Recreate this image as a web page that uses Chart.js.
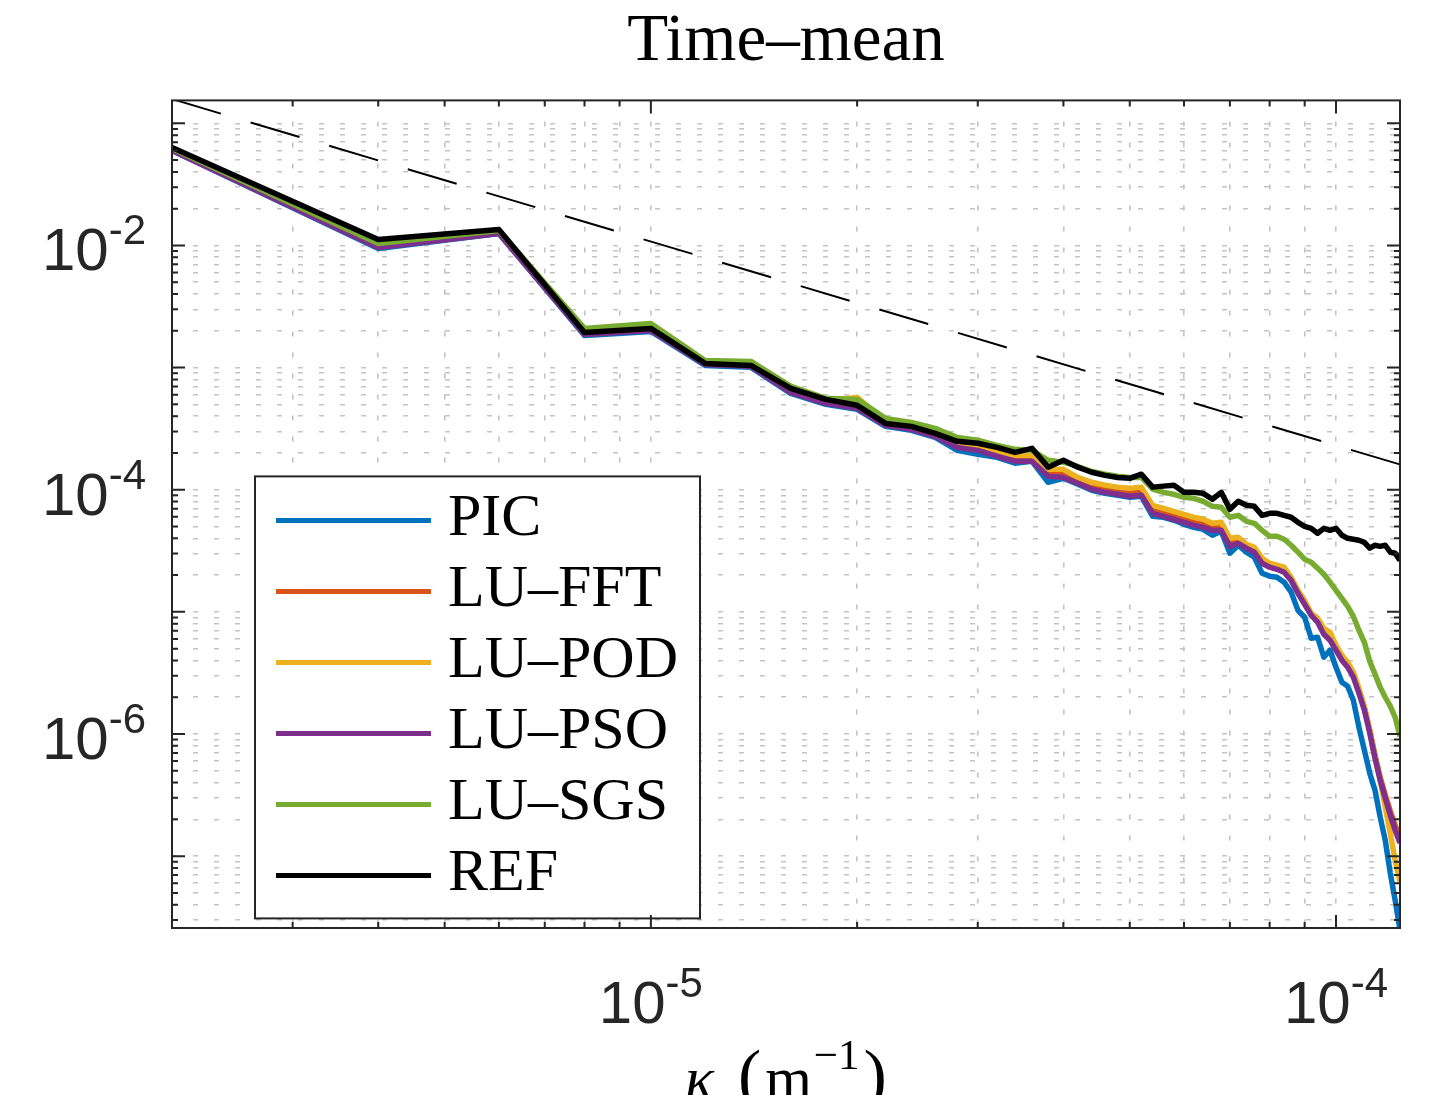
<!DOCTYPE html>
<html>
<head>
<meta charset="utf-8">
<script src="https://cdn.jsdelivr.net/npm/chart.js@4.4.1/dist/chart.umd.min.js"></script>
<style>
html,body{margin:0;padding:0;background:#fff;width:1434px;height:1095px;overflow:hidden;}
#wrap{position:relative;width:1434px;height:1095px;overflow:hidden;background:#fff;}
#box{position:relative;width:1434px;height:1120px;}
canvas{display:block;}
</style>
</head>
<body>
<div id="wrap"><div id="box"><canvas id="c"></canvas></div></div>
<script>
// ---------------- data ----------------
const chartTitle = 'Time\u2013mean';
const seriesNames = ['PIC', 'LU\u2013FFT', 'LU\u2013POD', 'LU\u2013PSO', 'LU\u2013SGS', 'REF'];

const kappa = [2e-6, 4e-6, 6e-6, 8e-6, 1e-5, 1.2e-5, 1.4e-5, 1.6e-5, 1.8e-5, 2e-5,
  2.2e-5, 2.4e-5, 2.6e-5, 2.8e-5, 3e-5, 3.2e-5, 3.4e-5, 3.6e-5, 3.8e-5, 4e-5,
  4.2e-5, 4.4e-5, 4.6e-5, 4.8e-5, 5e-5, 5.2e-5, 5.4e-5, 5.6e-5, 5.8e-5, 6e-5,
  6.2e-5, 6.4e-5, 6.6e-5, 6.8e-5, 7e-5, 7.2e-5, 7.4e-5, 7.6e-5, 7.8e-5, 8e-5,
  8.2e-5, 8.4e-5, 8.6e-5, 8.8e-5, 9e-5, 9.2e-5, 9.4e-5, 9.6e-5, 9.8e-5, 1e-4,
  1.02e-4, 1.04e-4, 1.06e-4, 1.08e-4, 1.1e-4, 1.12e-4, 1.14e-4, 1.16e-4, 1.18e-4, 1.2e-4,
  1.22e-4, 1.24e-4];

const PIC = [0.0599, 0.00945, 0.01254, 0.001834, 0.001978, 0.001042, 0.001004, 6.15e-4, 5.00e-4, 4.55e-4,
  3.30e-4, 3.06e-4, 2.68e-4, 2.10e-4, 1.95e-4, 1.84e-4, 1.65e-4, 1.71e-4, 1.15e-4, 1.24e-4,
  1.11e-4, 9.89e-5, 9.34e-5, 9.00e-5, 8.67e-5, 8.83e-5, 6.06e-5, 5.95e-5, 5.62e-5, 5.21e-5,
  4.92e-5, 4.74e-5, 4.24e-5, 4.57e-5, 3.02e-5, 3.51e-5, 3.08e-5, 2.80e-5, 2.07e-5, 1.96e-5,
  1.92e-5, 1.75e-5, 1.45e-5, 1.03e-5, 9.03e-6, 6.08e-6, 6.20e-6, 4.25e-6, 4.85e-6, 3.52e-6,
  2.65e-6, 2.46e-6, 1.89e-6, 1.14e-6, 7.37e-7, 4.78e-7, 3.47e-7, 2.09e-7, 1.35e-7, 7.26e-8,
  4.36e-8, 2.48e-8];

const LU_FFT = [0.0610, 0.00981, 0.01278, 0.001905, 0.002054, 0.001082, 0.001042, 6.39e-4, 5.19e-4, 4.81e-4,
  3.43e-4, 3.18e-4, 2.84e-4, 2.31e-4, 2.14e-4, 1.95e-4, 1.81e-4, 1.81e-4, 1.36e-4, 1.34e-4,
  1.19e-4, 1.07e-4, 1.01e-4, 9.70e-5, 9.34e-5, 9.52e-5, 6.78e-5, 6.41e-5, 6.06e-5, 5.73e-5,
  5.41e-5, 5.21e-5, 4.92e-5, 4.92e-5, 3.64e-5, 3.86e-5, 3.44e-5, 3.19e-5, 2.60e-5, 2.41e-5,
  2.32e-5, 2.19e-5, 1.85e-5, 1.45e-5, 1.20e-5, 9.56e-6, 8.54e-6, 6.94e-6, 6.32e-6, 5.13e-6,
  4.25e-6, 3.73e-6, 3.09e-6, 2.28e-6, 1.66e-6, 1.07e-6, 6.71e-7, 4.43e-7, 3.16e-7, 2.34e-7,
  1.79e-7, 1.40e-7];

const LU_POD = [0.0622, 0.0100, 0.01302, 0.001978, 0.002133, 0.001103, 0.001082, 7.02e-4, 5.39e-4, 5.70e-4,
  3.63e-4, 3.37e-4, 2.95e-4, 2.40e-4, 2.22e-4, 2.02e-4, 1.91e-4, 1.91e-4, 1.47e-4, 1.47e-4,
  1.26e-4, 1.15e-4, 1.09e-4, 1.05e-4, 1.03e-4, 1.05e-4, 7.45e-5, 7.04e-5, 6.66e-5, 6.29e-5,
  5.95e-5, 5.73e-5, 5.31e-5, 5.41e-5, 4.00e-5, 4.08e-5, 3.58e-5, 3.38e-5, 2.75e-5, 2.50e-5,
  2.41e-5, 2.32e-5, 1.92e-5, 1.50e-5, 1.24e-5, 9.74e-6, 8.87e-6, 7.34e-6, 6.81e-6, 5.33e-6,
  4.41e-6, 3.87e-6, 3.21e-6, 2.37e-6, 1.66e-6, 1.07e-6, 6.46e-7, 4.19e-7, 2.52e-7, 1.54e-7,
  9.27e-8, 6.13e-8];

const LU_PSO = [0.0599, 0.00963, 0.01254, 0.001869, 0.002016, 0.001062, 0.001023, 6.27e-4, 5.09e-4, 4.64e-4,
  3.37e-4, 3.12e-4, 2.74e-4, 2.22e-4, 2.10e-4, 1.88e-4, 1.71e-4, 1.71e-4, 1.29e-4, 1.26e-4,
  1.13e-4, 1.01e-4, 9.52e-5, 9.17e-5, 8.83e-5, 9.00e-5, 6.41e-5, 6.06e-5, 5.73e-5, 5.41e-5,
  5.11e-5, 4.92e-5, 4.65e-5, 4.65e-5, 3.44e-5, 3.64e-5, 3.32e-5, 3.08e-5, 2.50e-5, 2.32e-5,
  2.23e-5, 2.11e-5, 1.81e-5, 1.42e-5, 1.15e-5, 9.38e-6, 8.22e-6, 6.56e-6, 5.86e-6, 4.85e-6,
  4.02e-6, 3.52e-6, 2.92e-6, 2.16e-6, 1.57e-6, 1.02e-6, 6.34e-7, 4.19e-7, 2.98e-7, 2.17e-7,
  1.63e-7, 1.28e-7];

const LU_SGS = [0.0622, 0.01038, 0.01327, 0.002093, 0.00230, 0.001145, 0.001124, 7.02e-4, 5.60e-4, 5.49e-4,
  3.84e-4, 3.56e-4, 3.18e-4, 2.68e-4, 2.54e-4, 2.31e-4, 2.14e-4, 2.10e-4, 1.74e-4, 1.68e-4,
  1.55e-4, 1.41e-4, 1.34e-4, 1.29e-4, 1.26e-4, 1.26e-4, 1.01e-4, 9.52e-5, 9.17e-5, 8.67e-5,
  8.50e-5, 8.04e-5, 7.31e-5, 7.18e-5, 5.95e-5, 6.17e-5, 5.51e-5, 5.31e-5, 4.65e-5, 4.16e-5,
  4.16e-5, 3.93e-5, 3.51e-5, 3.08e-5, 2.70e-5, 2.55e-5, 2.28e-5, 2.03e-5, 1.75e-5, 1.50e-5,
  1.29e-5, 1.11e-5, 9.2e-6, 7.07e-6, 5.64e-6, 3.94e-6, 3.09e-6, 2.42e-6, 2.00e-6, 1.69e-6,
  1.37e-6, 9.59e-7];

const REF = [0.0634, 0.0112, 0.01352, 0.001941, 0.002093, 0.001082, 0.001042, 6.76e-4, 5.49e-4, 4.91e-4,
  3.49e-4, 3.30e-4, 2.89e-4, 2.49e-4, 2.40e-4, 2.22e-4, 2.02e-4, 2.18e-4, 1.53e-4, 1.74e-4,
  1.53e-4, 1.39e-4, 1.31e-4, 1.26e-4, 1.24e-4, 1.34e-4, 1.05e-4, 1.07e-4, 1.09e-4, 9.52e-5,
  9.52e-5, 9.34e-5, 8.35e-5, 9.52e-5, 6.91e-5, 8.04e-5, 7.45e-5, 7.31e-5, 6.17e-5, 6.41e-5,
  6.41e-5, 6.17e-5, 5.95e-5, 5.41e-5, 5.02e-5, 4.83e-5, 4.40e-5, 4.83e-5, 4.65e-5, 4.83e-5,
  4.24e-5, 4.00e-5, 3.93e-5, 3.86e-5, 3.71e-5, 3.32e-5, 3.51e-5, 3.44e-5, 3.51e-5, 3.08e-5,
  3.02e-5, 2.64e-5];

// reference slope line (k^-5/3), end points
const slopeX = [2e-6, 1.24e-4];
const slopeY = [0.158, 1.61e-4];

// axis ranges and tick labels
const xRange = [2e-6, 1.24e-4];
const yRange = [2.58e-8, 0.154];
const xTickValues = [1e-5, 1e-4];
const xTickExponents = ['-5', '-4'];
const yTickValues = [1e-6, 1e-4, 1e-2];
const yTickExponents = ['-6', '-4', '-2'];
const xAxisTitle = ['\u03BA', '(', 'm', '\u22121', ')'];

// ---------------- styling ----------------
const seriesColors = ['#0072BD', '#D95319', '#EDB120', '#7E2F8E', '#77AC30', '#000000'];
const seriesValues = [PIC, LU_FFT, LU_POD, LU_PSO, LU_SGS, REF];
const AX = '#262626';
const LW = 5.5;

function logGridTicks(min, max) {
  const out = [];
  const e0 = Math.floor(Math.log10(min)) , e1 = Math.ceil(Math.log10(max));
  for (let e = e0; e <= e1; e++) {
    for (let m = 1; m <= 9; m++) {
      const v = m * Math.pow(10, e);
      if (v >= min * (1 - 1e-9) && v <= max * (1 + 1e-9)) out.push({ value: v });
    }
  }
  return out;
}

const datasets = seriesNames.map((name, i) => ({
  label: name,
  data: kappa.map((x, j) => ({ x: x, y: seriesValues[i][j] })),
  borderColor: seriesColors[i],
  backgroundColor: seriesColors[i],
  borderWidth: LW,
  pointRadius: 0,
  tension: 0,
  fill: false,
  borderJoinStyle: 'round',
  order: seriesNames.length - i
}));
datasets.push({
  label: 'slope',
  data: slopeX.map((x, j) => ({ x: x, y: slopeY[j] })),
  borderColor: '#000',
  borderWidth: 2,
  borderDash: [51, 31],
  pointRadius: 0,
  fill: false,
  order: 0
});

function drawPow(ctx, x, baseY, exp, align) {
  const bs = 60, es = 42, raise = 26;
  ctx.font = bs + 'px "Liberation Sans", Arial, sans-serif';
  const wb = ctx.measureText('10').width;
  ctx.font = es + 'px "Liberation Sans", Arial, sans-serif';
  const we = ctx.measureText(exp).width;
  const start = align === 'center' ? x - (wb + we) / 2 : x - (wb + we);
  ctx.font = bs + 'px "Liberation Sans", Arial, sans-serif';
  ctx.fillText('10', start, baseY);
  ctx.font = es + 'px "Liberation Sans", Arial, sans-serif';
  ctx.fillText(exp, start + wb, baseY - raise);
}

const decor = {
  id: 'decor',
  afterDatasetsDraw(chart) {
    const { ctx, chartArea: a } = chart;
    ctx.save();
    const bx = a.left + 83, by = a.top + 376, bw = 445, bh = 442;
    ctx.fillStyle = '#fff';
    ctx.fillRect(bx, by, bw, bh);
    ctx.lineWidth = 2;
    ctx.strokeStyle = AX;
    ctx.strokeRect(bx, by, bw, bh);
    ctx.font = '60px "Liberation Serif", serif';
    ctx.textBaseline = 'alphabetic';
    ctx.textAlign = 'left';
    seriesNames.forEach((n, i) => {
      const y = by + 44 + i * 71;
      ctx.strokeStyle = seriesColors[i];
      ctx.lineWidth = 5;
      ctx.beginPath();
      ctx.moveTo(bx + 21, y);
      ctx.lineTo(bx + 176, y);
      ctx.stroke();
      ctx.fillStyle = '#000';
      ctx.fillText(n, bx + 193, y + 15);
    });
    ctx.restore();
  },
  afterDraw(chart) {
    const { ctx, chartArea: a } = chart;
    const xs = chart.scales.x, ys = chart.scales.y;
    ctx.save();
    // inward ticks on all four sides
    ctx.strokeStyle = AX;
    ctx.lineWidth = 2;
    ctx.beginPath();
    xs.ticks.forEach(t => {
      const lg = Math.log10(t.value);
      const len = Math.abs(lg - Math.round(lg)) < 1e-6 ? 13 : 6;
      const p = xs.getPixelForValue(t.value);
      if (p <= a.left + 1 || p >= a.right - 1) return;
      ctx.moveTo(p, a.bottom); ctx.lineTo(p, a.bottom - len);
      ctx.moveTo(p, a.top); ctx.lineTo(p, a.top + len);
    });
    ys.ticks.forEach(t => {
      const lg = Math.log10(t.value);
      const len = Math.abs(lg - Math.round(lg)) < 1e-6 ? 13 : 6;
      const p = ys.getPixelForValue(t.value);
      if (p <= a.top + 1 || p >= a.bottom - 1) return;
      ctx.moveTo(a.left, p); ctx.lineTo(a.left + len, p);
      ctx.moveTo(a.right, p); ctx.lineTo(a.right - len, p);
    });
    ctx.stroke();
    // frame
    ctx.strokeRect(a.left, a.top, a.right - a.left, a.bottom - a.top);
    // tick labels
    ctx.fillStyle = AX;
    ctx.textAlign = 'left';
    ctx.textBaseline = 'alphabetic';
    xTickValues.forEach((v, i) => drawPow(ctx, xs.getPixelForValue(v), a.bottom + 95, xTickExponents[i], 'center'));
    yTickValues.forEach((v, i) => drawPow(ctx, a.left - 26, ys.getPixelForValue(v) + 25, yTickExponents[i], 'right'));
    // x axis title
    ctx.fillStyle = '#000';
    const base = a.bottom + 170;
    const parts = [
      { t: xAxisTitle[0], f: 'italic 60px "Liberation Serif", serif', dy: 0, gap: 24 },
      { t: xAxisTitle[1], f: '70px "Liberation Serif", serif', dy: 0, gap: 4 },
      { t: xAxisTitle[2], f: '60px "Liberation Serif", serif', dy: 0, gap: 2 },
      { t: xAxisTitle[3], f: '43px "Liberation Serif", serif', dy: -29, gap: 4 },
      { t: xAxisTitle[4], f: '70px "Liberation Serif", serif', dy: 0, gap: 0 }
    ];
    let total = 0;
    parts.forEach(p => { ctx.font = p.f; p.w = ctx.measureText(p.t).width; total += p.w + p.gap; });
    let x = (a.left + a.right) / 2 - total / 2;
    parts.forEach(p => { ctx.font = p.f; ctx.fillText(p.t, x, base + p.dy); x += p.w + p.gap; });
    ctx.restore();
  }
};

const gridOpts = { color: '#c4c4c4', lineWidth: 1.6, drawTicks: false };

new Chart(document.getElementById('c'), {
  type: 'line',
  data: { datasets: datasets },
  options: {
    responsive: true,
    maintainAspectRatio: false,
    animation: false,
    layout: { padding: { left: 172, right: 34, top: 0, bottom: 192 } },
    plugins: {
      legend: { display: false },
      tooltip: { enabled: false },
      title: {
        display: true,
        text: chartTitle,
        color: '#000',
        font: { family: '"Liberation Serif", serif', size: 67, weight: 'normal' },
        padding: { top: 2, bottom: 18 }
      }
    },
    scales: {
      x: {
        type: 'logarithmic',
        min: xRange[0], max: xRange[1],
        ticks: { display: false },
        grid: gridOpts,
        border: { display: false, dash: [5, 16] },
        afterBuildTicks: s => { s.ticks = logGridTicks(s.min, s.max); }
      },
      y: {
        type: 'logarithmic',
        min: yRange[0], max: yRange[1],
        ticks: { display: false },
        grid: gridOpts,
        border: { display: false, dash: [5, 16] },
        afterBuildTicks: s => { s.ticks = logGridTicks(s.min, s.max); }
      }
    }
  },
  plugins: [decor]
});
</script>
</body>
</html>
